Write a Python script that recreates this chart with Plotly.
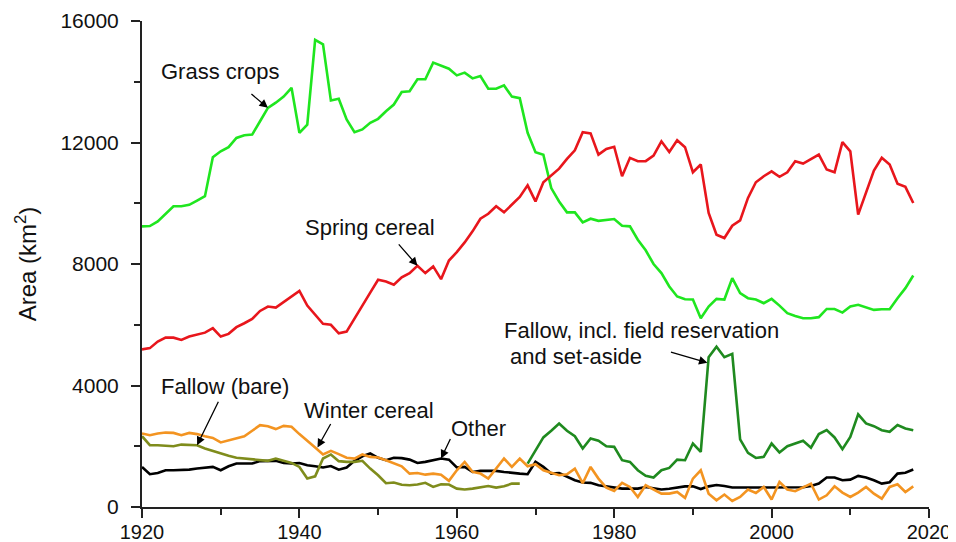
import plotly.graph_objects as go

years = list(range(1920, 2019))

grass_crops = [9240, 9250, 9400, 9650, 9900, 9900, 9950, 10090, 10230, 11515,
               11710, 11845, 12150, 12240, 12260, 12700, 13140, 13310, 13510, 13800,
               12320, 12590, 15375, 15230, 13385, 13440, 12760, 12340, 12430, 12650,
               12780, 13030, 13250, 13660, 13690, 14080, 14080, 14630, 14520, 14430,
               14210, 14300, 14110, 14190, 13770, 13770, 13880, 13510, 13460, 12320,
               11680, 11600, 10500, 10060, 9700, 9700, 9370, 9490, 9420, 9440,
               9480, 9260, 9240, 8800, 8450, 8000, 7700, 7260, 6930, 6840,
               6830, 6215, 6600, 6850, 6830, 7535, 7040, 6875, 6830, 6710,
               6850, 6630, 6380, 6290, 6215, 6215, 6250, 6520, 6520, 6400,
               6600, 6655, 6580, 6490, 6510, 6510, 6875, 7205, 7620]

spring_cereal = [5190, 5230, 5445, 5575, 5575, 5500, 5610, 5665, 5740, 5885,
                 5610, 5700, 5920, 6050, 6190, 6455, 6600, 6565, 6745, 6950,
                 7115, 6630, 6325, 6030, 6000, 5720, 5775, 6215, 6655, 7060,
                 7480, 7425, 7315, 7560, 7700, 7940, 7700, 7920, 7500, 8115,
                 8390, 8710, 9075, 9490, 9655, 9900, 9700, 9950, 10210, 10590,
                 10060, 10690, 10910, 11140, 11460, 11745, 12340, 12300, 11600, 11790,
                 11860, 10890, 11495, 11385, 11385, 11570, 12040, 11690, 12075, 11845,
                 11020, 11275, 9680, 8965, 8855, 9260, 9435, 10175, 10690, 10890,
                 11050, 10870, 11020, 11385, 11305, 11440, 11600, 11110, 11020, 12010,
                 11710, 9625, 10340, 11075, 11495, 11275, 10640, 10540, 10010]

winter_cereal = [2420, 2365, 2420, 2450, 2440, 2365, 2440, 2400, 2330, 2275,
                 2125, 2200, 2275, 2330, 2510, 2695, 2660, 2565, 2670, 2640,
                 2400, 2165, 1960, 1730, 1850, 1740, 1620, 1595, 1730, 1650,
                 1630, 1540, 1430, 1340, 1100, 1120, 1065, 1100, 1065, 860,
                 1210, 1485, 1155, 1100, 935, 1265, 1595, 1320, 1595, 1340,
                 1410, 1210, 1135, 1045, 1080, 1265, 783, 1320, 935, 640,
                 530, 795, 660, 330, 715, 575, 440, 440, 495, 300,
                 935, 1210, 440, 220, 410, 200, 330, 575, 460, 660,
                 245, 825, 575, 520, 640, 770, 245, 385, 680, 475,
                 330, 475, 660, 440, 275, 660, 750, 495, 680]

other = [1320, 1080, 1120, 1210, 1210, 1210, 1230, 1265, 1300, 1320,
         1210, 1340, 1430, 1430, 1430, 1510, 1520, 1520, 1450, 1430,
         1450, 1375, 1340, 1300, 1350, 1230, 1300, 1520, 1670, 1760,
         1620, 1540, 1620, 1610, 1560, 1450, 1485, 1540, 1595, 1560,
         1300, 1320, 1155, 1190, 1190, 1190, 1155, 1120, 1100, 1080,
         1485, 1320, 1100, 1120, 990, 880, 805, 795, 715, 680,
         660, 605, 605, 605, 660, 605, 575, 600, 640, 680,
         680, 590, 680, 724, 690, 640, 640, 640, 640, 640,
         640, 640, 630, 630, 650, 690, 770, 970, 970, 880,
         900, 1025, 970, 880, 770, 815, 1100, 1130, 1235]

fallow_bare_years = list(range(1920, 1969))
fallow_bare = [2330, 2035, 2035, 2015, 2000, 2055, 2035, 2035, 1925, 1840,
               1760, 1685, 1620, 1595, 1585, 1560, 1520, 1595, 1510, 1450,
               1320, 935, 1010, 1595, 1730, 1510, 1485, 1485, 1520, 1265,
               1045, 783, 805, 730, 715, 740, 795, 660, 750, 740,
               605, 575, 605, 640, 690, 640, 680, 770, 770]

fallow_incl_years = list(range(1969, 2019))
fallow_incl = [1430, 1870, 2290, 2510, 2750, 2510, 2330, 1925, 2255, 2180,
               2000, 1980, 1540, 1485, 1210, 1025, 970, 1210, 1285, 1560,
               1540, 2090, 1815, 4930, 5280, 4930, 5040, 2225, 1780, 1615,
               1650, 2090, 1795, 2000, 2090, 2180, 1950, 2400, 2530, 2290,
               1905, 2310, 3050, 2750, 2660, 2530, 2475, 2700, 2585, 2530]

C_GRASS = "#1fe61f"
C_SPRING = "#e8161c"
C_WINTER = "#f39421"
C_OTHER = "#000000"
C_BARE = "#7f8c1c"
C_INCL = "#1f8a1f"

fig = go.Figure()
fig.add_trace(go.Scatter(x=years, y=grass_crops, mode="lines", line=dict(color=C_GRASS, width=2.6)))
fig.add_trace(go.Scatter(x=years, y=spring_cereal, mode="lines", line=dict(color=C_SPRING, width=2.6)))
fig.add_trace(go.Scatter(x=years, y=other, mode="lines", line=dict(color=C_OTHER, width=2.6)))
fig.add_trace(go.Scatter(x=fallow_bare_years, y=fallow_bare, mode="lines", line=dict(color=C_BARE, width=2.6)))
fig.add_trace(go.Scatter(x=years, y=winter_cereal, mode="lines", line=dict(color=C_WINTER, width=2.6)))
fig.add_trace(go.Scatter(x=fallow_incl_years, y=fallow_incl, mode="lines", line=dict(color=C_INCL, width=2.6)))

FONT = "Arial, Liberation Sans, sans-serif"
afont = dict(family=FONT, size=22, color="#111")

def px2x(p):
    return 1920 + (p - 142) / 7.87

def py2y(p):
    return (506.7 - p) / 0.030313

labels = [
    ("Grass crops", 220, 72, "center"),
    ("Spring cereal", 370, 228, "center"),
    ("Fallow (bare)", 225, 386, "center"),
    ("Winter cereal", 369, 410, "center"),
    ("Other", 478, 428, "center"),
    ("Fallow, incl. field reservation", 502, 331, "left"),
    ("and set-aside", 508, 357, "left"),
]
for txt, px, py, anc in labels:
    fig.add_annotation(x=px2x(px), y=py2y(py), text=txt, showarrow=False,
                       xanchor=anc, yanchor="middle", font=afont)

def idx(yr):
    return yr - 1920

arrows = [
    (1936, grass_crops[idx(1936)], -18, -15),
    (1955, spring_cereal[idx(1955)], -20, -23),
    (1927, fallow_bare[idx(1927)], 22, -45),
    (1942.3, winter_cereal[idx(1942)], 14, -25),
    (1958, other[idx(1958)], 10, -21),
    (1991.85, 4750, -38, -11),
]
for x, y, ax, ay in arrows:
    fig.add_annotation(x=x, y=y, text="", showarrow=True, ax=ax, ay=ay,
                       arrowhead=2, arrowsize=1.3, arrowwidth=1.3, arrowcolor="#000",
                       standoff=0)

axis_common = dict(showline=True, linecolor="#222", linewidth=2, ticks="outside",
                   tickcolor="#222", tickwidth=2, ticklen=9, showgrid=False, zeroline=False,
                   automargin=False)

fig.update_xaxes(range=[1920, 2020], dtick=20, tick0=1920, tickformat="d",
                 tickfont=dict(family=FONT, size=20, color="#111"),
                 ticklabelstandoff=-3,
                 minor=dict(dtick=10, ticklen=6, tickwidth=2, tickcolor="#222", ticks="outside", showgrid=False),
                 **axis_common)
fig.update_yaxes(range=[0, 16000], dtick=4000, tick0=0, tickformat="d",
                 tickfont=dict(family=FONT, size=21, color="#111"),
                 ticklabelstandoff=8,
                 minor=dict(dtick=2000, ticklen=6, tickwidth=2, tickcolor="#222", ticks="outside", showgrid=False),
                 title=dict(text="Area (km<sup>2</sup>)", font=dict(family=FONT, size=24, color="#111"), standoff=17),
                 **axis_common)

# the page body adds an 8px offset, so the figure is sized to fit the window
fig.update_layout(width=948, height=534, margin=dict(l=134, r=27, t=13, b=35),
                  plot_bgcolor="white", paper_bgcolor="white", showlegend=False)

fig.write_html("out.html")
